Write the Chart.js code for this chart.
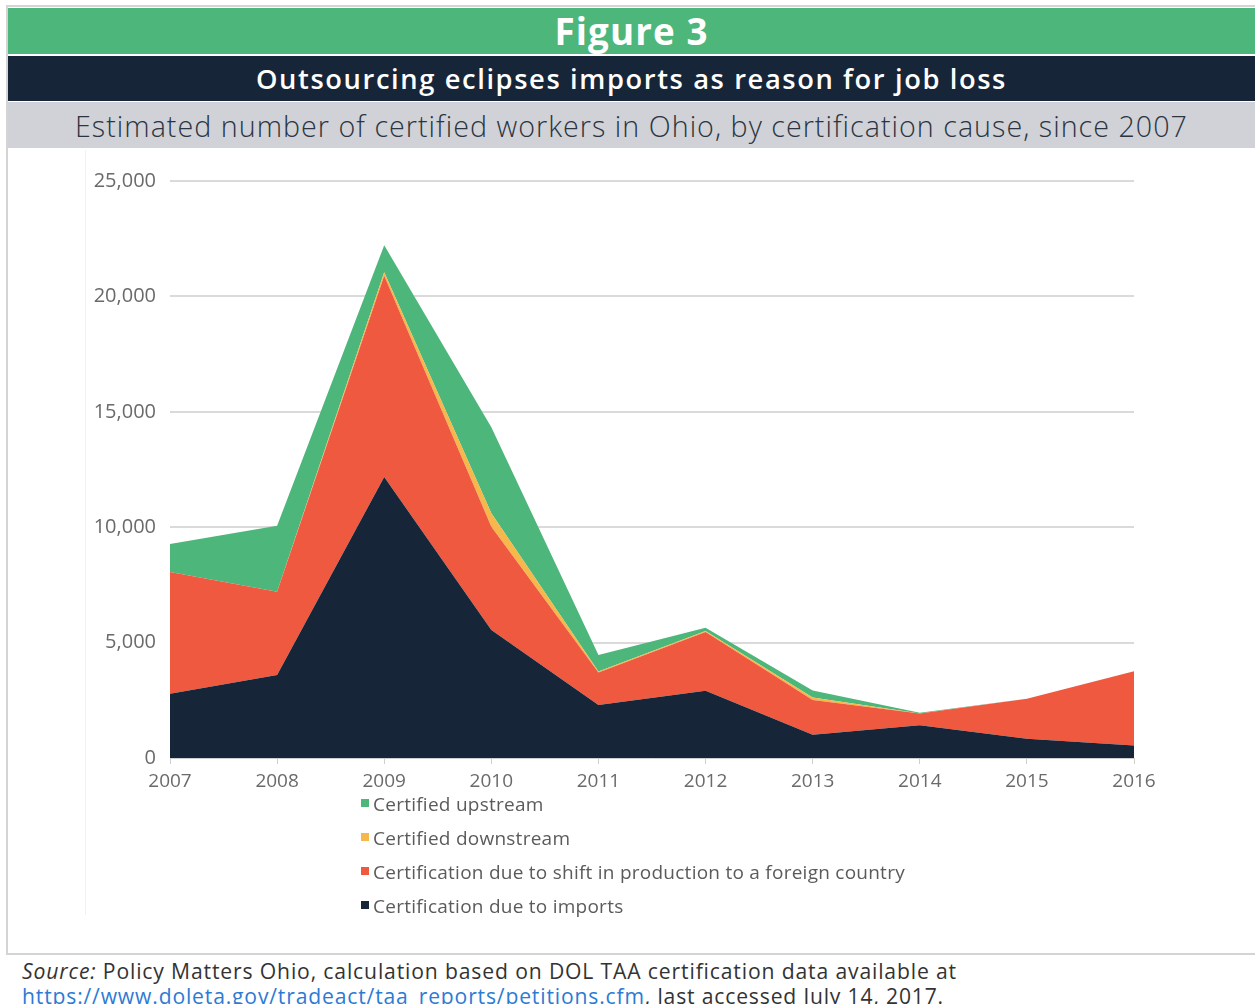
<!DOCTYPE html>
<html>
<head>
<meta charset="utf-8">
<script src="https://cdn.jsdelivr.net/npm/chart.js@4.4.1/dist/chart.umd.min.js"></script>
<style>
  html, body { margin:0; padding:0; background:#ffffff; }
  body { width:1255px; height:1004px; position:relative; overflow:hidden; font-family:"Open Sans", sans-serif; }
  .frame { position:absolute; left:6px; top:5px; width:1260px; height:950px; border-left:2px solid #d4d4d4; border-top:2px solid #d4d4d4; border-bottom:2px solid #d4d4d4; box-sizing:border-box; }
  .band { position:absolute; left:8px; width:1247px; display:flex; align-items:center; justify-content:center; }
  .band span { display:inline-block; white-space:nowrap; }
  #b1 { top:8px; height:46px; background:#4db67b; color:#ffffff; font-weight:700; font-size:32px; }
  #b2 { top:56px; height:45px; background:#172538; color:#ffffff; font-weight:600; font-size:23px; }
  #b3 { top:102px; height:46px; background:#d0d2d7; color:#2b3542; font-weight:300; font-size:24px; }
  .vline { position:absolute; left:85px; top:150px; width:1px; height:765px; background:#f1f1f1; }
  #chartBox { position:absolute; left:0; top:150px; width:1255px; height:650px; }
  #legend { position:absolute; left:361px; top:791px; font-size:19px; color:#5b5b5b; }
  #legend .item { height:34px; line-height:26px; display:flex; align-items:flex-start; white-space:nowrap; letter-spacing:0.25px; }
  #legend .box { width:8px; height:8px; margin-top:8px; margin-right:4px; flex:none; }
  #source { position:absolute; left:22px; top:959px; font-size:20px; line-height:24px; color:#333; white-space:nowrap; }
  #source span.l { display:inline-block; }
  #source a { color:#2c7bd3; text-decoration:underline; }
</style>
</head>
<body>
<div class="frame"></div>
<div class="band" id="b1"><span id="t1">Figure 3</span></div>
<div class="band" id="b2"><span id="t2">Outsourcing eclipses imports as reason for job loss</span></div>
<div class="band" id="b3"><span id="t3">Estimated number of certified workers in Ohio, by certification cause, since 2007</span></div>
<div class="vline"></div>
<div id="chartBox"><canvas id="c" width="1255" height="650"></canvas></div>
<div id="legend"></div>
<div id="source"><span class="l" id="s1"><i>Source:</i> Policy Matters Ohio, calculation based on DOL TAA certification data available at</span><br><span class="l" id="s2"><a>https://www.doleta.gov/tradeact/taa_reports/petitions.cfm</a>, last accessed July 14, 2017.</span></div>
<script>
const years = ['2007','2008','2009','2010','2011','2012','2013','2014','2015','2016'];
const importsVals = [2780, 3600, 12170, 5550, 2300, 2910, 1010, 1420, 830, 540];
const shiftVals = [5280, 3600, 8730, 4470, 1400, 2550, 1500, 510, 1740, 3220];
const downstreamVals = [0, 0, 150, 580, 50, 40, 110, 0, 0, 0];
const upstreamVals = [1210, 2860, 1170, 3730, 710, 140, 300, 30, 0, 0];
const yTicks = [0, 5000, 10000, 15000, 20000, 25000];

const seriesNames = ['Certification due to imports', 'Certification due to shift in production to a foreign country', 'Certified downstream', 'Certified upstream'];
const seriesColors = ['#172538', '#ef5940', '#f6b74b', '#4db67b'];
const seriesData = [importsVals, shiftVals, downstreamVals, upstreamVals];

const datasets = seriesData.map((d, i) => ({
  label: seriesNames[i],
  data: d,
  backgroundColor: seriesColors[i],
  borderColor: seriesColors[i],
  borderWidth: 0,
  pointRadius: 0,
  tension: 0,
  fill: i === 0 ? 'origin' : '-1'
}));

const chart = new Chart(document.getElementById('c'), {
  type: 'line',
  data: { labels: years, datasets: datasets },
  options: {
    responsive: false,
    animation: false,
    layout: { padding: { left: 0, right: 121, top: 31, bottom: 0 } },
    plugins: { legend: { display: false }, tooltip: { enabled: false } },
    scales: {
      x: {
        offset: false,
        grid: { display: true, drawOnChartArea: false, drawTicks: true, tickLength: 6, color: '#cfcfcf', lineWidth: 1 },
        border: { display: true, color: '#cfcfcf', width: 1 },
        ticks: { color: '#6a6a6a', font: { family: 'Open Sans', size: 19 }, padding: 6, maxRotation: 0, autoSkip: false },
        afterFit: (s) => { s.height = 42; }
      },
      y: {
        stacked: true,
        min: 0, max: 25000,
        afterBuildTicks: (s) => { s.ticks = yTicks.map(v => ({ value: v })); },
        grid: { color: (ctx) => ctx.tick && ctx.tick.value === 0 ? 'rgba(0,0,0,0)' : '#dadada', lineWidth: 2, drawTicks: false },
        border: { display: false },
        ticks: { color: '#6a6a6a', font: { family: 'Open Sans', size: 20 }, padding: 14,
          callback: (v) => v.toLocaleString('en-US') },
        afterFit: (s) => { s.width = 170; }
      }
    }
  }
});

// legend built from chart datasets (reverse stacking order)
const leg = document.getElementById('legend');
chart.data.datasets.slice().reverse().forEach(ds => {
  const it = document.createElement('div');
  it.className = 'item';
  const b = document.createElement('span');
  b.className = 'box';
  b.style.background = ds.backgroundColor;
  const t = document.createElement('span');
  t.textContent = ds.label;
  it.appendChild(b); it.appendChild(t);
  leg.appendChild(it);
});

function fit(id, target, baseSize, mix) {
  const el = document.getElementById(id);
  el.style.letterSpacing = '0px';
  el.style.fontSize = baseSize + 'px';
  let w = el.getBoundingClientRect().width;
  const size = baseSize * Math.pow(target / w, mix);
  el.style.fontSize = size + 'px';
  w = el.getBoundingClientRect().width;
  const n = el.textContent.length;
  el.style.letterSpacing = ((target - w) / n) + 'px';
}
function doFit() {
  fit('t1', 154, 32, 0.7);
  fit('t2', 751, 23, 0.6);
  fit('t3', 1113, 24, 0.7);
  fit('s1', 935, 20, 0.4);
  fit('s2', 922, 20, 0.4);
}
doFit();
if (document.fonts && document.fonts.ready) document.fonts.ready.then(doFit);
</script>
</body>
</html>
